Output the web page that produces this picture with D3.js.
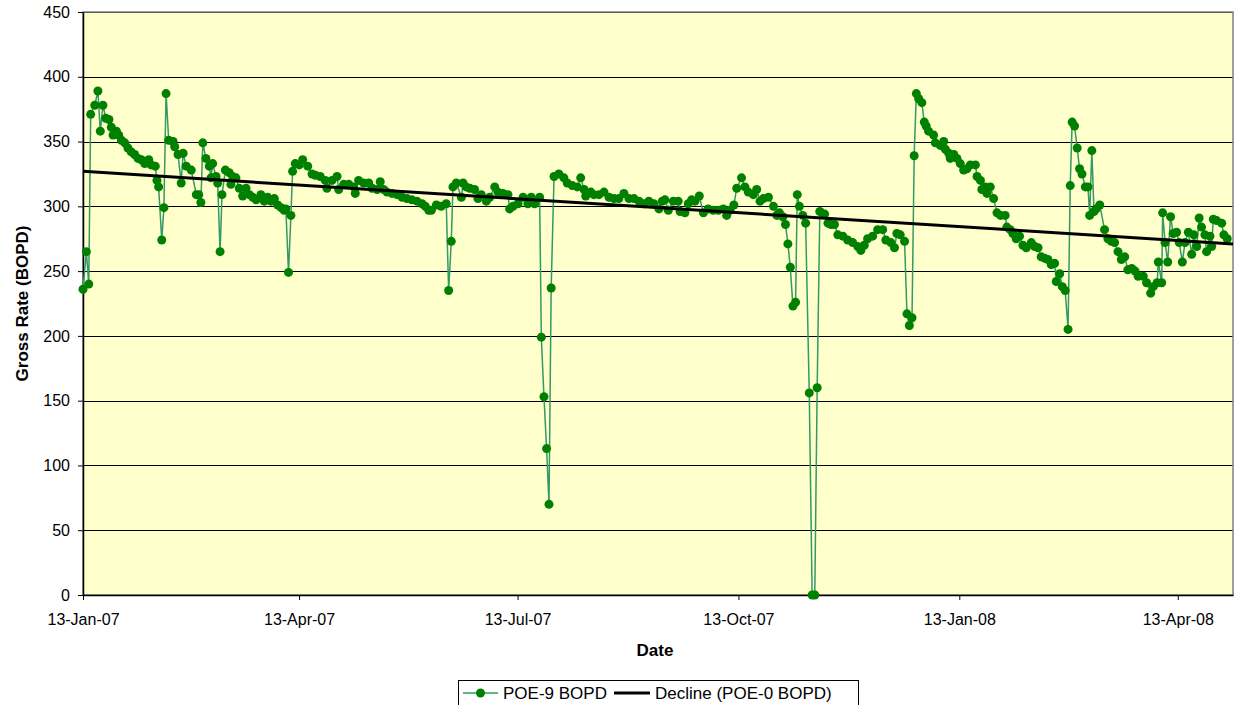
<!DOCTYPE html>
<html>
<head>
<meta charset="utf-8">
<script src="https://cdn.jsdelivr.net/npm/d3@7/dist/d3.min.js"></script>
<style>
body{margin:0;background:#fff;}
text{font-family:Arial,"Liberation Sans",sans-serif;}
</style>
</head>
<body>
<script>
// axis info
var startDate = new Date(2007, 0, 13);
var endDate = new Date(2008, 4, 6);
var tickLabels = ['13-Jan-07','13-Apr-07','13-Jul-07','13-Oct-07','13-Jan-08','13-Apr-08'];
var yTicks = [0,50,100,150,200,250,300,350,400,450];

// POE-9 gross rate, x = days after 13-Jan-07
var poeDays = [0,1.4,2.4,3.2,4.9,6.2,7.2,8.3,9.5,10.8,11.8,12.5,13.9,14.9,16.0,17.4,18.7,20.1,21.5,22.9,
  24.3,25.7,27.4,28.4,30.1,30.8,31.5,32.8,33.7,34.6,35.7,37.5,38.2,39.6,40.9,41.7,43.0,45.1,47.2,48.2,
  49.1,49.9,51.2,52.6,53.3,54.0,55.4,56.1,57.1,57.9,59.3,60.9,61.6,62.3,63.7,65.1,66.5,67.9,69.3,70.7,
  72.1,74.1,75.5,76.9,78.3,79.7,81.1,82.5,83.8,84.5,85.6,86.6,87.3,88.4,90.1,91.5,93.6,95.4,96.8,98.8,
  100.9,101.6,103.7,105.8,106.5,108.6,110.7,112.7,113.4,114.8,116.9,119.0,120.4,122.5,123.8,125.2,126.6,128.7,130.8,132.9,
  134.9,137.0,139.1,141.2,142.6,144.0,145.1,147.2,149.2,151.3,152.3,153.4,154.1,155.5,157.6,158.3,159.6,161.1,163.1,164.5,
  165.9,168.0,169.4,171.5,172.8,174.9,177.0,177.7,179.1,181.2,183.3,185.3,186.7,188.1,190.2,190.9,192.0,193.1,194.1,195.0,
  196.2,198.2,200.3,201.7,203.8,205.9,207.3,208.7,209.4,211.5,212.8,214.9,217.0,219.1,221.2,223.2,225.3,227.4,229.5,231.6,
  233.7,235.7,237.8,239.9,241.3,242.4,243.8,245.9,247.9,248.7,250.7,252.1,253.5,254.9,256.7,258.4,260.4,262.5,264.6,266.7,
  268.1,269.5,271.1,272.3,274.3,275.7,277.1,279.2,280.6,282.0,283.4,285.5,287.6,289.0,290.1,291.5,292.6,293.6,294.6,295.7,
  296.8,297.5,298.4,299.8,301.0,302.5,303.7,304.8,305.8,306.9,308.9,310.3,311.6,313.0,314.4,316.5,318.5,320.6,322.7,324.0,
  325.4,326.8,328.9,331.0,333.1,334.4,336.5,338.0,339.0,340.4,342.2,343.2,344.2,345.3,346.2,347.1,348.1,349.4,350.4,351.2,
  352.2,354.3,355.0,357.1,358.5,359.2,360.6,361.2,362.7,364.0,365.4,366.8,368.2,369.6,371.7,372.4,373.8,374.4,375.8,376.5,
  377.9,379.3,380.7,382.2,384.1,384.8,386.2,387.3,388.7,390.1,391.5,392.9,395.0,396.4,397.8,399.1,400.5,401.9,403.3,404.7,
  405.4,406.8,407.9,409.1,410.3,411.2,412.0,413.0,414.1,415.1,416.1,417.5,418.6,419.3,420.2,421.1,422.0,423.5,425.5,426.9,
  428.3,429.7,431.1,432.5,433.9,435.2,436.8,438.2,439.5,441.6,443.0,444.7,445.8,447.4,447.9,449.3,449.7,450.7,451.8,453.0,
  454.1,455.5,456.6,457.9,459.0,460.4,461.8,462.7,463.9,464.9,465.9,467.3,468.0,469.4,470.1,470.8,472.2,474.3,475.2,476.6];
var poeRate = [236,265,240,371,378,389,358,378,368,367,361,355,358,355,351,349,345,342,340,337,
  336,333,336,332,331,320,315,274,299,387,351,350,346,340,318,341,331,328,309,309,
  303,349,337,331,322,333,323,318,265,309,328,326,317,323,322,314,308,314,309,307,
  305,309,304,307,304,306,301,299,297,298,249,293,327,333,332,336,331,325,324,323,
  320,314,320,323,313,317,317,315,310,320,318,318,314,313,319,313,311,310,309,307,
  306,305,304,302,300,297,297,301,300,302,235,273,315,318,307,318,315,314,313,306,
  309,304,307,315,311,310,309,298,300,302,307,302,307,302,307,199,153,113,70,237,
  323,325,322,318,316,315,322,313,308,311,309,309,311,307,306,306,310,306,306,304,
  302,304,302,298,304,305,297,304,304,296,295,302,305,304,308,295,298,297,297,298,
  293,297,301,314,322,315,311,309,313,304,306,307,300,293,295,292,286,271,253,223,
  226,309,300,293,287,156,0,0,160,296,294,287,286,286,278,277,274,272,269,266,
  270,275,277,282,282,274,272,268,279,278,273,217,208,214,339,387,383,380,365,362,
  358,355,349,347,350,344,341,337,340,337,333,328,329,332,332,323,320,313,315,310,
  315,306,295,293,293,284,282,279,275,277,270,268,272,269,268,261,260,259,255,256,
  242,248,238,235,205,316,365,362,345,329,325,315,315,293,343,296,298,301,282,275,
  273,272,265,259,261,251,252,250,246,246,241,233,238,241,257,241,295,272,257,292,
  279,280,272,257,272,280,263,278,269,291,284,278,265,277,269,290,289,287,278,275];

// decline curve end points
var declineDays = [0, 479];
var declineRate = [327, 271];

var chartW = 1237, chartH = 705;
var plotL = 83, plotR = 1233, plotT = 12, plotB = 595;
var fontSize = 16;

function dayToDate(d){ return new Date(startDate.getTime() + d*86400000); }

var svg = d3.select('body').append('svg')
    .attr('width', chartW).attr('height', chartH);

var x = d3.scaleTime().domain([startDate, endDate]).range([plotL, plotR]);
var y = d3.scaleLinear().domain([0, 450]).range([plotB, plotT]);

// plot area
svg.append('rect')
    .attr('x', plotL).attr('y', plotT)
    .attr('width', plotR-plotL).attr('height', plotB-plotT)
    .attr('fill', '#FFFFCC');

// horizontal grid
svg.append('g').selectAll('line')
    .data(yTicks.slice(1))
    .enter().append('line')
    .attr('x1', plotL).attr('x2', plotR)
    .attr('y1', function(d){ return Math.round(y(d)) + 0.5; })
    .attr('y2', function(d){ return Math.round(y(d)) + 0.5; })
    .attr('stroke', '#000').attr('stroke-width', 1);

svg.append('rect')
    .attr('x', plotL).attr('y', plotT)
    .attr('width', plotR-plotL).attr('height', plotB-plotT)
    .attr('fill', 'none').attr('stroke', '#808080').attr('stroke-width', 1.5);

// axes
var parseTick = d3.timeParse('%d-%b-%y');
var tickDates = tickLabels.map(parseTick);
var xAxis = d3.axisBottom(x).tickValues(tickDates)
    .tickFormat(function(d, i){ return tickLabels[i]; })
    .tickSizeInner(5).tickSizeOuter(0).tickPadding(14);
var gx = svg.append('g').attr('transform', 'translate(0,' + plotB + ')').call(xAxis);

var yAxis = d3.axisLeft(y).tickValues(yTicks).tickSizeInner(5).tickSizeOuter(0).tickPadding(8);
var gy = svg.append('g').attr('transform', 'translate(' + plotL + ',0)').call(yAxis);

[gx, gy].forEach(function(g){
    g.selectAll('text').style('font-size', fontSize + 'px').attr('fill', '#000')
        .style('font-family', 'Arial, "Liberation Sans", sans-serif');
    g.selectAll('line').attr('stroke', '#000');
    g.select('.domain').attr('stroke', '#000').attr('stroke-width', 1.5);
});

// axis titles
svg.append('text')
    .attr('transform', 'translate(22,' + ((plotT+plotB)/2) + ') rotate(-90)')
    .attr('text-anchor', 'middle').attr('dy', '0.35em')
    .style('font-size', '17px').style('font-weight', 'bold')
    .text('Gross Rate (BOPD)');
svg.append('text')
    .attr('x', 655).attr('y', 650)
    .attr('text-anchor', 'middle').attr('dy', '0.35em')
    .style('font-size', '17px').style('font-weight', 'bold')
    .text('Date');

// POE-9 series
var poeData = poeDays.map(function(d, i){ return {date: dayToDate(d), v: poeRate[i]}; });
var line = d3.line().x(function(d){ return x(d.date); }).y(function(d){ return y(d.v); });

svg.append('path').datum(poeData)
    .attr('d', line)
    .attr('fill', 'none').attr('stroke', '#339966').attr('stroke-width', 1.5);

svg.append('g').selectAll('circle')
    .data(poeData)
    .enter().append('circle')
    .attr('cx', function(d){ return x(d.date); })
    .attr('cy', function(d){ return y(d.v); })
    .attr('r', 4.5)
    .attr('fill', '#008000');

// decline line
var declineData = declineDays.map(function(d, i){ return {date: dayToDate(d), v: declineRate[i]}; });
svg.append('path').datum(declineData)
    .attr('d', line)
    .attr('fill', 'none').attr('stroke', '#000').attr('stroke-width', 3);

// legend
var legend = svg.append('g');
legend.append('rect')
    .attr('x', 458.5).attr('y', 680.5).attr('width', 400).attr('height', 30)
    .attr('fill', '#fff').attr('stroke', '#000').attr('stroke-width', 1);
legend.append('line')
    .attr('x1', 463).attr('x2', 498).attr('y1', 693).attr('y2', 693)
    .attr('stroke', '#339966').attr('stroke-width', 1.5);
legend.append('circle').attr('cx', 480.5).attr('cy', 693).attr('r', 4.5).attr('fill', '#008000');
legend.append('text').attr('x', 503).attr('y', 693).attr('dy', '0.35em')
    .style('font-size', '17px').text('POE-9 BOPD');
legend.append('line')
    .attr('x1', 614).attr('x2', 650).attr('y1', 693).attr('y2', 693)
    .attr('stroke', '#000').attr('stroke-width', 3);
legend.append('text').attr('x', 655).attr('y', 693).attr('dy', '0.35em')
    .style('font-size', '17px').text('Decline (POE-0 BOPD)');
</script>
</body>
</html>
